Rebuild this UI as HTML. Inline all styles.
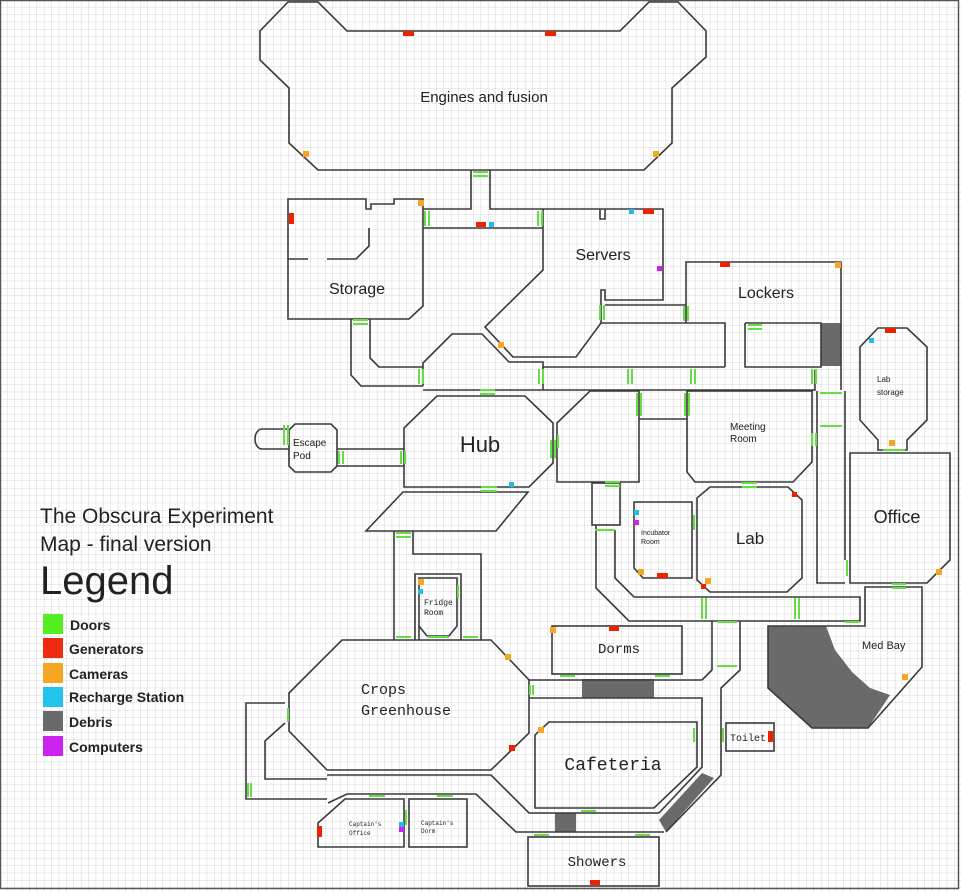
<!DOCTYPE html>
<html><head><meta charset="utf-8"><style>
html,body{margin:0;padding:0;background:#fff}
svg{display:block}
.w{fill:none;stroke:#3a3a3a;stroke-width:1.6;stroke-linejoin:miter}
.d{stroke:#66dd44;stroke-width:2;fill:none}
.t{font-family:"Liberation Sans",sans-serif;fill:#222}
.m{font-family:"Liberation Mono","DejaVu Sans Mono",monospace;fill:#222}
</style></head><body>
<svg width="961" height="891" viewBox="0 0 961 891" xmlns="http://www.w3.org/2000/svg">
<defs>
<pattern id="g" width="7.4" height="7.4" patternUnits="userSpaceOnUse">
<path d="M7.4 0V7.4H0" fill="none" stroke="#cacaca" stroke-width="0.8"/>
</pattern>
</defs>
<rect width="961" height="891" fill="#fff"/>
<rect width="961" height="891" fill="url(#g)"/>
<rect x="0.5" y="0.5" width="958" height="888" fill="none" stroke="#555" stroke-width="1.5"/>

<g fill="#6a6a6a">
<rect x="821" y="323" width="20" height="43"/>
<rect x="582" y="679" width="72" height="19"/>
<rect x="555" y="813" width="21" height="19"/>
<polygon points="659,820 702,773 714,778 666,832"/>
<polygon points="768,626 826,626 835,650 852,672 870,688 890,695 868,728 812,728 768,688"/>
</g>

<g class="w">
<polygon points="288,2 318,2 347,31 620,31 649,2 678,2 706,31 706,57 672,88 672,143 644,170 318,170 289,143 289,88 260,60 260,31"/>
<polyline points="471,170 471,209 423,209"/>
<polyline points="490,170 490,209 543,209"/>
<polyline points="423,228 543,228"/>
<polygon points="288,199 366,199 366,209 371,209 371,204 394,204 394,199 423,199 423,306 409,319 288,319"/>
<polyline points="288,259 308,259"/>
<polyline points="327,259 356,259 369,246 369,228"/>
<polyline points="351,319 351,375 361,386 423,386"/>
<polyline points="370,319 370,358 379,367 423,367"/>
<polyline points="543,209 663,209 663,300 605,300 605,290 601,290 601,323 576,357 513,357 485,327 543,270 543,209"/>
<polyline points="600,209 600,219 605,219 605,209"/>
<polyline points="605,305 686,305"/>
<polyline points="686,323 686,262 841,262 841,390"/>
<polyline points="601,323 725,323 725,367"/>
<polyline points="745,323 821,323 821,367 745,367 745,323"/>
<polyline points="423,386 423,363 452,334 482,334 509,362 543,362 543,367 725,367"/>
<polyline points="423,390 815,390 815,370"/>
<polyline points="543,367 543,390"/>
<polygon points="437,396 525,396 553,423 553,463 529,487 404,487 404,428"/>
<path d="M295,424 H331 L337,430 V466 L331,472 H295 L289,466 V430 Z"/>
<path d="M289,429 H262 A7,10 0 0 0 262,449 H289"/>
<polyline points="337,449 404,449"/><polyline points="337,466 404,466"/>
<polygon points="403,492 528,492 496,531 366,531"/>
<polyline points="394,531 394,640"/>
<polyline points="413,531 413,554 481,554 481,640"/>
<polyline points="415,640 415,574 461,574 461,640"/>
<polyline points="419,640 419,578 457,578 457,626 449,636 427,636 419,626"/>
<polygon points="590,391 639,391 639,482 557,482 557,423"/>
<polyline points="639,419 687,419"/>
<polygon points="687,391 812,391 812,462 793,482 695,482 687,472"/>
<polyline points="817,391 817,583 845,583"/>
<polyline points="845,391 845,560"/>
<polygon points="878,328 907,328 927,347 927,420 907,440 907,450 878,450 878,440 860,420 860,347"/>
<polygon points="850,453 950,453 950,560 927,583 850,583"/>
<polygon points="710,487 788,487 802,500 802,578 787,592 710,592 697,580 697,498"/>
<polygon points="634,502 692,502 692,578 643,578 634,568"/>
<rect x="592" y="483" width="28" height="42"/>
<polyline points="596,525 596,588 629,621 860,621 860,597 634,597 615,578 615,530"/>
<polygon points="768,626 865,626 865,587 922,587 922,667 868,728 812,728 768,688"/>
<polyline points="712,621 712,670 702,680"/>
<polyline points="740,621 740,670 721,688 721,775 666,832"/>
<rect x="552" y="626" width="130" height="48"/>
<polygon points="342,640 491,640 529,680 529,733 491,770 327,770 289,731 289,693"/>
<polyline points="285,703 246,703 246,799 327,799"/>
<polyline points="285,723 265,741 265,779 327,779"/>
<polyline points="529,680 702,680"/>
<polyline points="529,698 702,698 702,767 659,813"/>
<polyline points="327,775 491,775 529,813 659,813"/>
<polyline points="328,803 347,794 476,794 516,832 664,832"/>
<polygon points="549,722 697,722 697,767 654,808 535,808 535,735"/>
<rect x="726" y="723" width="48" height="28"/>
<polygon points="318,847 318,823 345,799 404,799 404,847"/>
<rect x="409" y="799" width="58" height="48"/>
<rect x="528" y="837" width="131" height="49"/>
</g>

<g class="d">
<path d="M473,172H488M473,176H488"/>
<path d="M425,211V226M429,211V226"/><path d="M538,211V226M542,211V226"/>
<path d="M353,320H368M353,324H368"/>
<path d="M419,369V384M423,369V384"/><path d="M539,369V384M543,369V384"/>
<path d="M628,369V384M632,369V384"/><path d="M691,369V384M695,369V384"/>
<path d="M812,369V384M816,369V384"/>
<path d="M600,305V320M604,305V320"/><path d="M684,306V321M688,306V321"/>
<path d="M748,325H762M748,329H762"/>
<path d="M480,390H495M480,394H495"/>
<path d="M284,425V445M288,425V445"/><path d="M339,451V464M343,451V464"/><path d="M401,451V464M405,451V464"/>
<path d="M551,440V458M555,440V458"/>
<path d="M481,487H497M481,491H497"/>
<path d="M396,533H411M396,537H411"/>
<path d="M396,637H411M463,637H478M427,637H449"/>
<path d="M458,585V598"/>
<path d="M641,393V416M685,393V416M637,393V416M689,393V416"/>
<path d="M558,435V448"/>
<path d="M605,482H620M605,486H620"/><path d="M595,530H615"/>
<path d="M742,483H757M742,487H757"/>
<path d="M694,515V530"/>
<path d="M812,433V446M816,433V446"/>
<path d="M820,393H842M820,426H842"/>
<path d="M847,560V576"/>
<path d="M883,450H905"/><path d="M892,584H906M892,588H906"/>
<path d="M702,598V619M706,598V619M795,598V619M799,598V619"/>
<path d="M717,622H737"/><path d="M717,666H737"/><path d="M845,622H860"/>
<path d="M560,676H575M655,676H670"/>
<path d="M530,685V695M533,685V695"/>
<path d="M694,728V742"/><path d="M723,728V742"/>
<path d="M581,811H596"/>
<path d="M534,835H549M635,835H650"/>
<path d="M288,708V722"/><path d="M248,783V797M251,783V797"/>
<path d="M369,796H385M437,796H453"/>
<path d="M406,810V825"/>
</g>

<g>
<rect x="403" y="31" width="11" height="5" fill="#ee2200"/><rect x="545" y="31" width="11" height="5" fill="#ee2200"/>
<rect x="303" y="151" width="6" height="6" fill="#f5a623"/><rect x="653" y="151" width="6" height="6" fill="#f5a623"/>
<rect x="289" y="213" width="5" height="11" fill="#ee2200"/>
<rect x="418" y="200" width="6" height="6" fill="#f5a623"/>
<rect x="476" y="222" width="10" height="5" fill="#ee2200"/><rect x="489" y="222" width="5" height="5" fill="#22bbee"/>
<rect x="629" y="209" width="5" height="5" fill="#22bbee"/><rect x="643" y="209" width="11" height="5" fill="#ee2200"/>
<rect x="657" y="266" width="5" height="5" fill="#cc22ee"/>
<rect x="498" y="342" width="6" height="6" fill="#f5a623"/>
<rect x="720" y="262" width="10" height="5" fill="#ee2200"/><rect x="835" y="262" width="6" height="6" fill="#f5a623"/>
<rect x="885" y="328" width="11" height="5" fill="#ee2200"/><rect x="869" y="338" width="5" height="5" fill="#22bbee"/>
<rect x="889" y="440" width="6" height="6" fill="#f5a623"/>
<rect x="509" y="482" width="5" height="5" fill="#22bbee"/>
<rect x="792" y="492" width="5" height="5" fill="#ee2200"/>
<rect x="634" y="510" width="5" height="5" fill="#22bbee"/><rect x="634" y="520" width="5" height="5" fill="#cc22ee"/>
<rect x="638" y="569" width="6" height="6" fill="#f5a623"/><rect x="657" y="573" width="11" height="5" fill="#ee2200"/>
<rect x="705" y="578" width="6" height="6" fill="#f5a623"/><rect x="701" y="584" width="5" height="5" fill="#ee2200"/>
<rect x="936" y="569" width="6" height="6" fill="#f5a623"/>
<rect x="902" y="674" width="6" height="6" fill="#f5a623"/>
<rect x="418" y="579" width="6" height="6" fill="#f5a623"/><rect x="418" y="589" width="5" height="5" fill="#22bbee"/>
<rect x="550" y="627" width="6" height="6" fill="#f5a623"/><rect x="609" y="626" width="10" height="5" fill="#ee2200"/>
<rect x="505" y="654" width="6" height="6" fill="#f5a623"/>
<rect x="538" y="727" width="6" height="6" fill="#f5a623"/><rect x="509" y="745" width="6" height="6" fill="#ee2200"/>
<rect x="768" y="731" width="5" height="11" fill="#ee2200"/>
<rect x="317" y="826" width="5" height="11" fill="#ee2200"/>
<rect x="399" y="822" width="5" height="5" fill="#22bbee"/><rect x="399" y="827" width="5" height="5" fill="#cc22ee"/>
<rect x="590" y="880" width="10" height="5" fill="#ee2200"/>
</g>

<g class="t">
<text x="484" y="102" font-size="15" text-anchor="middle">Engines and fusion</text>
<text x="357" y="294" font-size="16" text-anchor="middle">Storage</text>
<text x="603" y="260" font-size="16" text-anchor="middle">Servers</text>
<text x="766" y="298" font-size="16" text-anchor="middle">Lockers</text>
<text x="480" y="452" font-size="22" text-anchor="middle">Hub</text>
<text x="293" y="446" font-size="10">Escape</text><text x="293" y="459" font-size="10">Pod</text>
<text x="730" y="430" font-size="10">Meeting</text><text x="730" y="442" font-size="10">Room</text>
<text x="877" y="382" font-size="8">Lab</text><text x="877" y="395" font-size="8">storage</text>
<text x="897" y="523" font-size="18" text-anchor="middle">Office</text>
<text x="750" y="544" font-size="17" text-anchor="middle">Lab</text>
<text x="641" y="535" font-size="7">Incubator</text><text x="641" y="544" font-size="7">Room</text>
<text x="862" y="649" font-size="11">Med Bay</text>
<text x="40" y="523" font-size="21">The Obscura Experiment</text>
<text x="40" y="551" font-size="21">Map - final version</text>
<text x="40" y="594" font-size="40">Legend</text>
</g>
<g class="m">
<text x="424" y="605" font-size="8">Fridge</text><text x="424" y="615" font-size="8">Room</text>
<text x="619" y="653" font-size="14" text-anchor="middle">Dorms</text>
<text x="361" y="694" font-size="15">Crops</text>
<text x="361" y="715" font-size="15">Greenhouse</text>
<text x="613" y="770" font-size="18" text-anchor="middle">Cafeteria</text>
<text x="730" y="741" font-size="10">Toilet</text>
<text x="349" y="826" font-size="6">Captain's</text><text x="349" y="835" font-size="6">Office</text>
<text x="421" y="825" font-size="6">Captain's</text><text x="421" y="833" font-size="6">Dorm</text>
<text x="597" y="866" font-size="14" text-anchor="middle">Showers</text>
</g>

<g>
<rect x="43" y="614" width="20" height="20" fill="#55ee22"/>
<rect x="43" y="638" width="20" height="20" fill="#ee2a11"/>
<rect x="43" y="663" width="20" height="20" fill="#f5a623"/>
<rect x="43" y="687" width="20" height="20" fill="#22c4ee"/>
<rect x="43" y="711" width="20" height="20" fill="#6a6a6a"/>
<rect x="43" y="736" width="20" height="20" fill="#cc22ee"/>
</g>
<g class="t" font-size="14" font-weight="bold">
<text x="70" y="630">Doors</text>
<text x="69" y="654">Generators</text>
<text x="69" y="679">Cameras</text>
<text x="69" y="702">Recharge Station</text>
<text x="69" y="727">Debris</text>
<text x="69" y="752">Computers</text>
</g>
</svg>
</body></html>
